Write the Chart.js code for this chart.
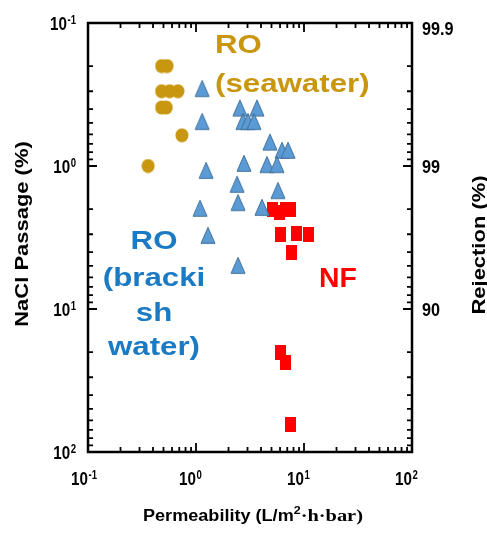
<!DOCTYPE html>
<html>
<head>
<meta charset="utf-8">
<script src="https://cdn.jsdelivr.net/npm/chart.js@4.4.1/dist/chart.umd.min.js"></script>
<style>
  html, body { margin: 0; padding: 0; background: #ffffff; }
  canvas { display: block; }
</style>
</head>
<body>
<canvas id="chart" width="487" height="533"></canvas>
<script>
// Membrane permeability (L/m2·h·bar) vs NaCl passage (%)
const seawaterPermeability = [0.48, 0.54, 0.48, 0.57, 0.68, 0.48, 0.53, 0.74, 0.36];
const seawaterPassage      = [0.20, 0.20, 0.30, 0.30, 0.30, 0.39, 0.39, 0.61, 1.00];

const brackishPermeability = [1.14, 1.14, 2.55, 3.67, 2.72, 3.03, 3.44, 4.84, 6.26, 7.11, 2.78,
                              4.54, 5.62, 1.24, 2.40, 5.74, 2.45, 1.09, 4.08, 1.29, 2.45];
const brackishPassage      = [0.30, 0.51, 0.41, 0.41, 0.51, 0.51, 0.51, 0.71, 0.81, 0.81, 1.00,
                              1.02, 1.02, 1.12, 1.40, 1.55, 1.88, 2.06, 2.03, 3.19, 5.17];

const nfPermeability = [5.16, 5.87, 6.67, 7.42, 6.12, 8.61, 11.1, 7.58, 6.12, 6.81, 7.42];
const nfPassage      = [2.00, 2.10, 2.00, 2.00, 3.00, 2.95, 3.00, 4.00, 20.3, 23.5, 64.7];

// Axis ticks
const decadeExponents = [-1, 0, 1, 2];
const minorSteps = [2, 3, 4, 5, 6, 7, 8, 9];
const rejectionLabels = [99.9, 99, 90];

const GOLD = '#C8960F';
const BLUE_TEXT = '#1A7AC4';
const RED = '#FF0000';

function toPoints(xs, ys) {
  return xs.map((x, i) => ({ x: x, y: ys[i] }));
}

function makeMarker(w, h, draw) {
  const c = document.createElement('canvas');
  c.width = w; c.height = h;
  draw(c.getContext('2d'));
  return c;
}

const circleMarker = makeMarker(14, 15, g => {
  g.fillStyle = GOLD;
  g.beginPath();
  g.ellipse(7, 7.5, 6.5, 7, 0, 0, Math.PI * 2);
  g.fill();
});

// triangle centroid sits at the image centre
const triangleMarker = makeMarker(18, 26, g => {
  g.fillStyle = '#5B9BD5';
  g.strokeStyle = '#41719C';
  g.lineWidth = 1;
  g.beginPath();
  g.moveTo(9, 2.3);
  g.lineTo(16, 18.3);
  g.lineTo(2, 18.3);
  g.closePath();
  g.fill();
  g.stroke();
});

const squareMarker = makeMarker(11, 15, g => {
  g.fillStyle = RED;
  g.fillRect(0, 0, 11, 15);
});

function stretchText(ctx, text, x, y, font, color, sx, align) {
  ctx.save();
  ctx.font = font;
  ctx.fillStyle = color;
  ctx.textAlign = align || 'left';
  ctx.textBaseline = 'alphabetic';
  ctx.translate(x, y);
  ctx.scale(sx, 1);
  ctx.fillText(text, 0, 0);
  ctx.restore();
}

function textWidth(ctx, text, font, sx) {
  ctx.save();
  ctx.font = font;
  const w = ctx.measureText(text).width * sx;
  ctx.restore();
  return w;
}

const BASE_FONT = 'bold 19px "Liberation Sans", Arial, sans-serif';
const EXP_FONT = 'bold 12px "Liberation Sans", Arial, sans-serif';
const LABEL_SX = 0.8;

// "10" with a raised exponent; anchor is the right edge of "10"
function drawPower(ctx, exp, xBaseRight, baseline) {
  const baseW = textWidth(ctx, '10', BASE_FONT, LABEL_SX);
  stretchText(ctx, '10', xBaseRight - baseW, baseline, BASE_FONT, '#000', LABEL_SX);
  stretchText(ctx, String(exp), xBaseRight + 0.5, baseline - 6.5, EXP_FONT, '#000', LABEL_SX);
}

function powerWidth(ctx, exp) {
  return textWidth(ctx, '10', BASE_FONT, LABEL_SX) + 0.5 + textWidth(ctx, String(exp), EXP_FONT, LABEL_SX);
}

const axesDecor = {
  id: 'axesDecor',
  afterDatasetsDraw(chart) {
    const ctx = chart.ctx;
    const a = chart.chartArea;
    const xs = chart.scales.x;
    const ys = chart.scales.y;

    ctx.save();
    ctx.strokeStyle = '#000';
    ctx.lineCap = 'butt';

    // tick marks pointing into the plot on all four sides
    const majorLen = 9, minorLen = 5;
    ctx.lineWidth = 1.8;
    ctx.beginPath();
    decadeExponents.forEach((e, i) => {
      const v = Math.pow(10, e);
      const px = xs.getPixelForValue(v);
      const py = ys.getPixelForValue(v);
      ctx.moveTo(px, a.top); ctx.lineTo(px, a.top + majorLen);
      ctx.moveTo(px, a.bottom); ctx.lineTo(px, a.bottom - majorLen);
      ctx.moveTo(a.left, py); ctx.lineTo(a.left + majorLen, py);
      ctx.moveTo(a.right, py); ctx.lineTo(a.right - majorLen, py);
      if (i < decadeExponents.length - 1) {
        minorSteps.forEach(m => {
          const mv = m * v;
          const mx = xs.getPixelForValue(mv);
          const my = ys.getPixelForValue(mv);
          ctx.moveTo(mx, a.top); ctx.lineTo(mx, a.top + minorLen);
          ctx.moveTo(mx, a.bottom); ctx.lineTo(mx, a.bottom - minorLen);
          ctx.moveTo(a.left, my); ctx.lineTo(a.left + minorLen, my);
          ctx.moveTo(a.right, my); ctx.lineTo(a.right - minorLen, my);
        });
      }
    });
    ctx.stroke();

    // plot frame
    ctx.lineWidth = 2.5;
    ctx.strokeRect(a.left, a.top, a.right - a.left, a.bottom - a.top);

    // left tick labels (NaCl passage)
    decadeExponents.forEach(e => {
      const py = ys.getPixelForValue(Math.pow(10, e));
      const w = powerWidth(ctx, e);
      const expW = w - textWidth(ctx, '10', BASE_FONT, LABEL_SX);
      drawPower(ctx, e, 76 - expW, py + 7);
    });

    // bottom tick labels (permeability)
    decadeExponents.forEach(e => {
      const px = xs.getPixelForValue(Math.pow(10, e));
      drawPower(ctx, e, px, 485);
    });

    // right tick labels (rejection = 100 - passage)
    const RIGHT_FONT = 'bold 18px "Liberation Sans", Arial, sans-serif';
    rejectionLabels.forEach(r => {
      const py = Math.max(ys.getPixelForValue(100 - r), a.top + 5);
      stretchText(ctx, String(r), a.right + 10, py + 6.5, RIGHT_FONT, '#000', 0.9);
    });

    // axis titles
    const TITLE_FONT = 'bold 18px "Liberation Sans", Arial, sans-serif';
    ctx.save();
    ctx.translate(28, 234);
    ctx.rotate(-Math.PI / 2);
    stretchText(ctx, 'NaCl Passage (%)', 0, 0, TITLE_FONT, '#000', 1.22, 'center');
    ctx.restore();

    ctx.save();
    ctx.translate(485, 245);
    ctx.rotate(-Math.PI / 2);
    stretchText(ctx, 'Rejection (%)', 0, 0, TITLE_FONT, '#000', 1.22, 'center');
    ctx.restore();

    const seg1 = 'Permeability (L/m';
    const seg1Font = 'bold 16px "Liberation Sans", Arial, sans-serif';
    const seg2Font = 'bold 11px "Liberation Sans", Arial, sans-serif';
    const seg3Font = 'bold 17px "Liberation Serif", "Times New Roman", serif';
    let tx = 143;
    stretchText(ctx, seg1, tx, 521, seg1Font, '#000', 1.13);
    tx += textWidth(ctx, seg1, seg1Font, 1.13);
    stretchText(ctx, '2', tx, 514, seg2Font, '#000', 1.13);
    tx += textWidth(ctx, '2', seg2Font, 1.13);
    stretchText(ctx, '·h·bar)', tx, 521, seg3Font, '#000', 1.2);

    // group labels
    const GROUP_FONT = 'bold 25px "Liberation Sans", Arial, sans-serif';
    stretchText(ctx, 'RO', 215, 53, GROUP_FONT, GOLD, 1.25);
    stretchText(ctx, '(seawater)', 215, 92, GROUP_FONT, GOLD, 1.25);

    const brackishLines = ['RO', '(bracki', 'sh', 'water)'];
    const brackishBaselines = [249, 286, 321, 355];
    brackishLines.forEach((t, i) => {
      stretchText(ctx, t, 154, brackishBaselines[i], GROUP_FONT, BLUE_TEXT, 1.25, 'center');
    });

    stretchText(ctx, 'NF', 319, 287, 'bold 27px "Liberation Sans", Arial, sans-serif', RED, 1.05);

    ctx.restore();
  }
};

new Chart(document.getElementById('chart'), {
  type: 'scatter',
  data: {
    datasets: [
      {
        label: 'RO (seawater)',
        data: toPoints(seawaterPermeability, seawaterPassage),
        pointStyle: circleMarker,
        pointRadius: 7
      },
      {
        label: 'RO (brackish water)',
        data: toPoints(brackishPermeability, brackishPassage),
        pointStyle: triangleMarker,
        pointRadius: 8
      },
      {
        label: 'NF',
        data: toPoints(nfPermeability, nfPassage),
        pointStyle: squareMarker,
        pointRadius: 7
      }
    ]
  },
  options: {
    responsive: false,
    animation: false,
    devicePixelRatio: 1,
    layout: { padding: { left: 88, top: 23, right: 75, bottom: 81 } },
    plugins: {
      legend: { display: false },
      tooltip: { enabled: false }
    },
    scales: {
      x: { type: 'logarithmic', min: 0.1, max: 100, display: false },
      y: { type: 'logarithmic', min: 0.1, max: 100, reverse: true, display: false }
    }
  },
  plugins: [axesDecor]
});
</script>
</body>
</html>
